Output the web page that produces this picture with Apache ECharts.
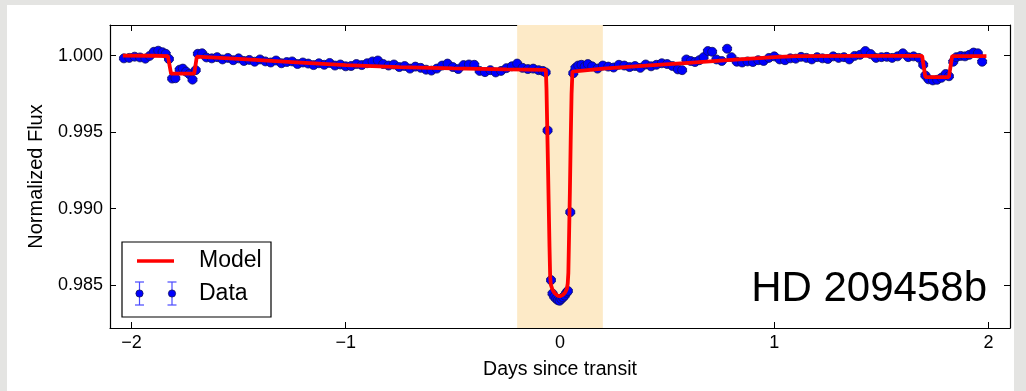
<!DOCTYPE html>
<html><head><meta charset="utf-8">
<script src="https://cdn.jsdelivr.net/npm/echarts@6/dist/echarts.min.js"></script>
<style>
html,body{margin:0;padding:0;background:#e4e4e2;overflow:hidden;}
#card{position:absolute;left:7px;top:5px;width:1007px;height:386px;background:#fff;}
#c{position:absolute;left:0;top:0;width:1026px;height:391px;}
</style>
</head><body><div id="card"></div><div id="c"></div>
<script>
// ---- data ----
const xTicks = [-2, -1, 0, 1, 2];
const yTicks = [0.985, 0.990, 0.995, 1.000];
const transitBand = [-0.2, 0.2];
const planetName = 'HD 209458b';
const dataErr = 0.00008;

const modelPts = [
 [-2.04,1.00000],[-1.90,0.99999],[-1.83,0.99997],[-1.815,0.99882],[-1.707,0.99882],[-1.695,0.99993],
 [-1.50,0.99978],[-1.25,0.99958],[-1.00,0.99938],[-0.75,0.99925],[-0.50,0.99916],[-0.25,0.99910],
 [-0.066,0.99907],[-0.063,0.99780],[-0.058,0.99420],[-0.053,0.99050],[-0.049,0.98750],[-0.046,0.98560],
 [-0.043,0.98505],[-0.035,0.98470],[-0.025,0.98448],[-0.012,0.98432],[0.000,0.98428],[0.012,0.98435],
 [0.024,0.98452],[0.032,0.98475],[0.036,0.98510],[0.039,0.98580],[0.042,0.98800],[0.046,0.99100],
 [0.050,0.99450],[0.054,0.99750],[0.058,0.99895],[0.062,0.99905],[0.20,0.99915],[0.40,0.99934],
 [0.60,0.99953],[0.80,0.99972],[1.00,0.99990],[1.10,0.99996],[1.40,0.99998],[1.69,0.99998],
 [1.705,0.99860],[1.815,0.99860],[1.83,0.99997],[1.99,0.99997]
];

const dataPts = [
 [-2.035,0.99982],[-2.010,0.99985],[-1.985,0.99993],[-1.960,0.99988],[-1.935,0.99980],[-1.915,0.99998],
 [-1.895,1.00025],[-1.875,1.00032],[-1.855,1.00022],[-1.840,1.00012],[-1.825,0.99978],[-1.810,0.99850],
 [-1.795,0.99852],[-1.775,0.99908],[-1.760,0.99915],[-1.745,0.99895],[-1.730,0.99880],[-1.715,0.99843],
 [-1.700,0.99905],[-1.690,1.00012],[-1.670,1.00015],[-1.650,0.99988],[-1.625,0.99982],[-1.600,0.99990],
 [-1.575,0.99975],[-1.550,0.99985],[-1.525,0.99970],[-1.500,0.99982],[-1.475,0.99965],[-1.450,0.99972],
 [-1.425,0.99960],[-1.400,0.99975],[-1.375,0.99962],[-1.350,0.99955],[-1.325,0.99968],[-1.300,0.99950],
 [-1.275,0.99958],[-1.250,0.99962],[-1.225,0.99945],[-1.200,0.99955],[-1.175,0.99948],[-1.150,0.99938],
 [-1.125,0.99950],[-1.100,0.99940],[-1.075,0.99952],[-1.050,0.99935],[-1.025,0.99942],[-1.000,0.99930],
 [-0.975,0.99932],[-0.950,0.99945],[-0.925,0.99938],[-0.900,0.99950],[-0.875,0.99962],[-0.850,0.99968],
 [-0.825,0.99945],[-0.800,0.99935],[-0.775,0.99942],[-0.750,0.99925],[-0.725,0.99932],[-0.700,0.99915],
 [-0.675,0.99928],[-0.650,0.99920],[-0.625,0.99908],[-0.600,0.99902],[-0.575,0.99915],[-0.550,0.99935],
 [-0.525,0.99948],[-0.500,0.99925],[-0.475,0.99912],[-0.450,0.99938],[-0.425,0.99942],[-0.400,0.99940],
 [-0.375,0.99900],[-0.350,0.99892],[-0.325,0.99905],[-0.300,0.99890],[-0.275,0.99900],[-0.250,0.99918],
 [-0.225,0.99930],[-0.200,0.99948],[-0.175,0.99920],[-0.150,0.99912],[-0.125,0.99915],[-0.100,0.99905],
 [-0.080,0.99900],[-0.067,0.99890],
 [-0.058,0.99511],[-0.042,0.98533],[-0.035,0.98445],[-0.027,0.98425],[-0.018,0.98412],[-0.010,0.98402],
 [-0.002,0.98398],[0.006,0.98410],[0.014,0.98420],[0.022,0.98432],[0.030,0.98450],[0.037,0.98462],
 [0.048,0.98977],
 [0.062,0.99885],[0.072,0.99920],[0.085,0.99935],[0.100,0.99940],[0.115,0.99928],[0.130,0.99945],
 [0.150,0.99930],[0.175,0.99915],[0.200,0.99935],[0.225,0.99928],[0.250,0.99922],[0.275,0.99940],
 [0.300,0.99935],[0.325,0.99925],[0.350,0.99932],[0.375,0.99920],[0.400,0.99942],[0.425,0.99930],
 [0.450,0.99940],[0.475,0.99950],[0.500,0.99945],[0.525,0.99932],[0.550,0.99910],[0.570,0.99905],
 [0.590,0.99975],[0.610,0.99965],[0.630,0.99958],[0.650,0.99970],[0.670,0.99990],[0.690,1.00030],
 [0.710,1.00025],[0.730,0.99975],[0.755,0.99965],[0.780,1.00045],[0.800,0.99990],[0.825,0.99960],
 [0.850,0.99955],[0.875,0.99962],[0.900,0.99958],[0.925,0.99970],[0.950,0.99965],[0.975,0.99985],
 [1.000,0.99995],[1.025,0.99975],[1.050,0.99970],[1.075,0.99982],[1.100,0.99980],[1.125,0.99992],
 [1.150,0.99985],[1.175,0.99975],[1.200,0.99990],[1.225,0.99982],[1.250,0.99978],[1.275,0.99995],
 [1.300,0.99985],[1.325,0.99990],[1.350,0.99975],[1.375,0.99998],[1.400,1.00005],[1.425,1.00030],
 [1.450,1.00010],[1.475,0.99985],[1.500,0.99990],[1.525,0.99992],[1.550,0.99985],[1.575,0.99995],
 [1.600,1.00015],[1.625,0.99990],[1.650,0.99995],[1.675,0.99985],[1.695,0.99940],[1.705,0.99870],
 [1.720,0.99845],[1.740,0.99838],[1.760,0.99842],[1.780,0.99855],[1.800,0.99880],[1.815,0.99865],
 [1.835,0.99960],[1.850,0.99990],[1.870,0.99998],[1.890,0.99995],[1.910,1.00005],[1.930,1.00020],
 [1.950,1.00015],[1.970,0.99960]
];

// ---- chart ----
const FONT = '"Liberation Sans", Arial, Helvetica, sans-serif';
const chart = echarts.init(document.getElementById('c'), null, {renderer: 'canvas'});
const axisLine = {show: true, onZero: false, lineStyle: {color: '#000', width: 1.2}};
const tick = vals => ({show: true, inside: true, length: 6, customValues: vals, lineStyle: {color: '#000', width: 1}});

const errData = dataPts.map(p => [p[0], p[1], dataErr]);

chart.setOption({
  backgroundColor: 'transparent',
  animation: false,
  grid: {left: 110, right: 16, top: 25, bottom: 63, containLabel: false},
  xAxis: [
    {type: 'value', min: -2.1, max: 2.1, position: 'bottom',
     axisLine: axisLine, axisTick: tick(xTicks), splitLine: {show: false},
     axisLabel: {customValues: xTicks, margin: 6, color: '#000', fontFamily: FONT, fontSize: 18,
                 formatter: v => (v < 0 ? '\u2212' + Math.abs(v) : String(v))},
     name: 'Days since transit', nameLocation: 'middle', nameGap: 32,
     nameTextStyle: {color: '#000', fontFamily: FONT, fontSize: 19.5}},
    {type: 'value', min: -2.1, max: 2.1, position: 'top',
     axisLine: axisLine, axisTick: tick(xTicks), axisLabel: {show: false}, splitLine: {show: false}}
  ],
  yAxis: [
    {type: 'value', min: 0.9822, max: 1.002, position: 'left',
     axisLine: axisLine, axisTick: tick(yTicks), splitLine: {show: false},
     axisLabel: {customValues: yTicks, margin: 7, color: '#000', fontFamily: FONT, fontSize: 18,
                 formatter: v => v.toFixed(3)},
     name: 'Normalized Flux', nameLocation: 'middle', nameGap: 64, nameRotate: 90,
     nameTextStyle: {color: '#000', fontFamily: FONT, fontSize: 20}},
    {type: 'value', min: 0.9822, max: 1.002, position: 'right',
     axisLine: axisLine, axisTick: tick(yTicks), axisLabel: {show: false}, splitLine: {show: false}}
  ],
  series: [
    {type: 'custom', name: 'errors', z: 1, xAxisIndex: 0, yAxisIndex: 0, data: errData,
     renderItem: (params, api) => {
       const x = api.value(0), y = api.value(1), e = api.value(2);
       const t = api.coord([x, y + e]), b = api.coord([x, y - e]);
       const hw = 5, st = {stroke: '#2020ff', lineWidth: 1};
       return {type: 'group', children: [
         {type: 'line', shape: {x1: t[0], y1: t[1], x2: b[0], y2: b[1]}, style: st},
         {type: 'line', shape: {x1: t[0]-hw, y1: t[1], x2: t[0]+hw, y2: t[1]}, style: st},
         {type: 'line', shape: {x1: b[0]-hw, y1: b[1], x2: b[0]+hw, y2: b[1]}, style: st}
       ]};
     },
     markArea: {silent: true, itemStyle: {color: '#fdeac7'},
       data: [[{xAxis: transitBand[0]}, {xAxis: transitBand[1]}]]}
    },
    {type: 'scatter', name: 'Data', z: 3, data: dataPts, symbol: 'circle', symbolSize: 9,
     itemStyle: {color: '#0000ff', borderColor: '#10105a', borderWidth: 0.8, opacity: 1}},
    {type: 'line', name: 'Model', z: 4, data: modelPts, showSymbol: false, symbol: 'none',
     lineStyle: {color: '#ff0000', width: 3.8}}
  ],
  graphic: [
    {type: 'rect', shape: {x: 122, y: 242, width: 149, height: 75},
     style: {fill: '#fff', stroke: '#000', lineWidth: 1.2}, z: 100},
    {type: 'line', shape: {x1: 137, y1: 261, x2: 174, y2: 261},
     style: {stroke: '#ff0000', lineWidth: 3.6}, z: 101},
    {type: 'text', x: 199, y: 261, style: {text: 'Model', font: '23px ' + FONT, fill: '#000',
      verticalAlign: 'middle'}, z: 101},
    ...[139.5, 172].flatMap(cx => [
      {type: 'line', shape: {x1: cx, y1: 282, x2: cx, y2: 305}, style: {stroke: '#4a4aff', lineWidth: 1.2}, z: 101},
      {type: 'line', shape: {x1: cx-4.5, y1: 282, x2: cx+4.5, y2: 282}, style: {stroke: '#4a4aff', lineWidth: 1.2}, z: 101},
      {type: 'line', shape: {x1: cx-4.5, y1: 305, x2: cx+4.5, y2: 305}, style: {stroke: '#4a4aff', lineWidth: 1.2}, z: 101},
      {type: 'circle', shape: {cx: cx, cy: 293.5, r: 3.6}, style: {fill: '#0000ff', stroke: '#10105a', lineWidth: 0.8}, z: 102}
    ]),
    {type: 'text', x: 199, y: 294, style: {text: 'Data', font: '23px ' + FONT, fill: '#000',
      verticalAlign: 'middle'}, z: 101},
    {type: 'text', x: 987, y: 289, style: {text: planetName, font: '42px ' + FONT, fill: '#000',
      align: 'right', verticalAlign: 'middle'}, z: 101}
  ]
});
</script>
</body></html>
